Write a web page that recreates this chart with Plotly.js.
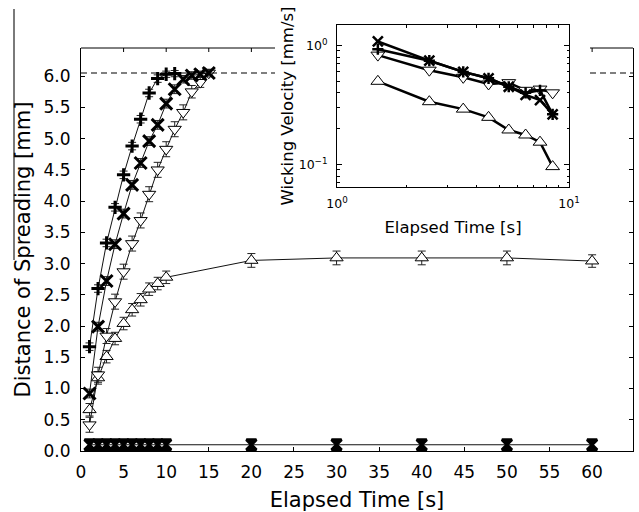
<!DOCTYPE html>
<html>
<head>
<meta charset="utf-8">
<script src="https://cdn.plot.ly/plotly-3.0.1.min.js"></script>
<style>html,body{margin:0;padding:0;background:#fff;}#chart{width:639px;height:512px;}</style>
</head>
<body>
<div id="chart"></div>
<script>
// ---- Main panel data: distance of spreading [mm] vs elapsed time [s]
var plusT = [1,2,3,4,5,6,7,8,9,10,11];
var plusY = [1.67,2.60,3.33,3.90,4.42,4.88,5.31,5.73,5.96,6.03,6.04];
var plusErr = [0.06,0.06,0.06,0.06,0.06,0.06,0.06,0.06,0.06,0.05,0.05];

var crossT = [1,2,3,4,5,6,7,8,9,10,11,12,13,14,15];
var crossY = [0.92,1.99,2.72,3.31,3.80,4.26,4.61,4.96,5.22,5.56,5.79,5.95,6.01,6.03,6.05];
var crossErr = [0.07,0.07,0.07,0.07,0.07,0.07,0.07,0.07,0.07,0.07,0.07,0.06,0.06,0.05,0.05];

var downT = [1,2,3,4,5,6,7,8,9,10,11,12,13,14,15];
var downY = [0.42,1.22,1.84,2.39,2.87,3.32,3.69,4.11,4.50,4.83,5.15,5.42,5.75,5.90,6.05];
var downErr = [0.12,0.12,0.12,0.12,0.12,0.12,0.12,0.12,0.12,0.12,0.12,0.12,0.10,0.08,0.06];

var upT = [1,2,3,4,5,6,7,8,9,10,20,30,40,50,60];
var upY = [0.66,1.17,1.51,1.80,2.04,2.26,2.42,2.59,2.68,2.78,3.05,3.09,3.09,3.09,3.04];
var upErr = [0.1,0.1,0.1,0.1,0.1,0.1,0.1,0.1,0.1,0.1,0.11,0.11,0.11,0.11,0.1];

var baseT = [1,2,3,4,5,6,7,8,9,10,20,30,40,50,60];
var baseY = [0.1,0.1,0.1,0.1,0.1,0.1,0.1,0.1,0.1,0.1,0.1,0.1,0.1,0.1,0.1];

var maxSpread = 6.05;   // dashed reference line
var xTickVals = [0,5,10,15,20,25,30,35,40,45,50,55,60];
var yTickVals = [0,0.5,1,1.5,2,2.5,3,3.5,4,4.5,5,5.5,6];

// ---- Inset data: wicking velocity [mm/s] vs elapsed time [s]
var vT = [1.5,2.5,3.5,4.5,5.5,6.5,7.5,8.5];
var vPlus = [0.93,0.745,0.60,0.53,0.45,0.40,0.42,0.264];
var vCross = [1.08,0.745,0.60,0.53,0.45,0.384,0.348,0.264];
var vDown = [0.83,0.62,0.54,0.475,0.487,0.42,0.43,0.40];
var vUp = [0.50,0.337,0.292,0.249,0.195,0.177,0.154,0.096];
var insetXTicks = [1,10];
var insetXText = ['10<sup>0</sup>','10<sup>1</sup>'];
var insetYTicks = [0.1,1];
var insetYText = ['10<sup>\u22121</sup>','10<sup>0</sup>'];

var FONT = 'DejaVu Sans, sans-serif';

function err(arr){ return {type:'data', array:arr, visible:true, color:'#222', thickness:1, width:4}; }
function mainTrace(x,y,e,sym,size,fill,lw){
  return {x:x, y:y, type:'scatter', mode:'lines+markers', xaxis:'x', yaxis:'y',
    line:{color:'#111', width:1}, error_y: e ? err(e) : undefined,
    marker:{symbol:sym, size:size, color:fill, line:{color:'#000', width:lw}},
    showlegend:false, hoverinfo:'skip', cliponaxis:false};
}
function insetTrace(x,y,sym,size,fill,lw){
  return {x:x, y:y, type:'scatter', mode:'lines+markers', xaxis:'x2', yaxis:'y2',
    line:{color:'#000', width:2.5},
    marker:{symbol:sym, size:size, color:fill, line:{color:'#000', width:lw}},
    showlegend:false, hoverinfo:'skip', cliponaxis:false};
}

var data = [
  mainTrace(upT, upY, upErr, 'triangle-up', 11.5, '#fff', 1),
  mainTrace(downT, downY, downErr, 'triangle-down', 11.5, '#fff', 1),
  mainTrace(crossT, crossY, crossErr, 'x-thin', 12, '#000', 3),
  mainTrace(plusT, plusY, plusErr, 'cross-thin', 9.5, '#000', 3),
  mainTrace(baseT, baseY, null, 'hourglass', 10, '#000', 3),
  insetTrace(vT, vUp, 'triangle-up', 12, '#fff', 1),
  insetTrace(vT, vDown, 'triangle-down', 12, '#fff', 1),
  insetTrace(vT, vCross, 'x-thin', 10, '#000', 2.5),
  insetTrace(vT, vPlus, 'cross-thin', 8, '#000', 2.5)
];

// main plot geometry (pixels)
var W = 639, H = 512, L = 81, R = 6, B = 61;
var plotW = W - L - R;           // 552
var paperH = H - B;              // 451 (t = 0)
var mainTop = 48;
var yDomTop = (paperH - mainTop) / paperH;
var gapL = (275 - L) / plotW, gapR = (590 - L) / plotW;   // region hidden by the inset
var xMax = 64.8;

var shapes = [];
// top spine (interrupted by inset)
[[0,gapL],[gapR,1]].forEach(function(s){
  shapes.push({type:'line', xref:'x domain', yref:'y domain', x0:s[0], x1:s[1], y0:1, y1:1,
    line:{color:'#000', width:1}});
  shapes.push({type:'line', xref:'x domain', yref:'y', x0:s[0], x1:s[1], y0:maxSpread, y1:maxSpread,
    line:{color:'#000', width:1.2, dash:'6px,4px'}});
});
// top ticks (inside)
xTickVals.forEach(function(v){
  var f = v / xMax;
  if ((f > 0 && f <= gapL) || (f >= gapR && f < 1)) {
    shapes.push({type:'line', xref:'x', yref:'y domain', ysizemode:'pixel', yanchor:1,
      x0:v, x1:v, y0:0, y1:-4, line:{color:'#000', width:1}});
  }
});
// stray vertical rule at the left edge of the figure
shapes.push({type:'line', xref:'paper', yref:'paper', x0:(14-L)/plotW, x1:(14-L)/plotW,
  y0:(paperH-9)/paperH, y1:(paperH-260)/paperH, line:{color:'#7a7a7a', width:2}});

var layout = {
  width: W, height: H,
  margin: {l:L, r:R, t:0, b:B, pad:0},
  paper_bgcolor:'#fff', plot_bgcolor:'#fff',
  font: {family: FONT, color:'#000'},
  showlegend:false,
  xaxis: {domain:[0,1], range:[0,xMax], anchor:'y', tickmode:'array', tickvals:xTickVals,
    ticks:'inside', ticklen:4, tickcolor:'#000', showline:true, linecolor:'#000', linewidth:1,
    mirror:false, showgrid:false, zeroline:false, tickfont:{size:17, family:FONT},
    ticklabelstandoff:6,
    title:{text:'Elapsed Time [s]', font:{size:21, family:FONT}, standoff:10}},
  yaxis: {domain:[0,yDomTop], range:[0,6.45], anchor:'x', tickmode:'array', tickvals:yTickVals,
    tickformat:'.1f', ticks:'inside', ticklen:4, tickcolor:'#000', showline:true, linecolor:'#000',
    linewidth:1, mirror:'allticks', showgrid:false, zeroline:false, tickfont:{size:17, family:FONT},
    ticklabelstandoff:6,
    title:{text:'Distance of Spreading [mm]', font:{size:21, family:FONT}, standoff:7}},
  xaxis2: {domain:[(337-L)/plotW,(569-L)/plotW], type:'log', range:[0,1], anchor:'y2',
    tickmode:'array', tickvals:insetXTicks, ticktext:insetXText,
    ticks:'inside', ticklen:5, tickcolor:'#000', showline:true, linecolor:'#000', linewidth:1,
    mirror:'allticks', showgrid:false, zeroline:false, tickfont:{size:12.5, family:FONT},
    ticklabelstandoff:5,
    minor:{ticks:'inside', ticklen:2.5, tickcolor:'#000', dtick:'D1', showgrid:false},
    title:{text:'Elapsed Time [s]', font:{size:16.5, family:FONT}, standoff:11}},
  yaxis2: {domain:[(paperH-187)/paperH,(paperH-25)/paperH], type:'log', range:[-1.189,0.172], anchor:'x2',
    tickmode:'array', tickvals:insetYTicks, ticktext:insetYText,
    ticks:'inside', ticklen:5, tickcolor:'#000', showline:true, linecolor:'#000', linewidth:1,
    mirror:'allticks', showgrid:false, zeroline:false, tickfont:{size:12.5, family:FONT},
    ticklabelstandoff:6,
    minor:{ticks:'inside', ticklen:2.5, tickcolor:'#000', dtick:'D1', showgrid:false},
    title:{text:'Wicking Velocity [mm/s]', font:{size:16.5, family:FONT}, standoff:0}},
  shapes: shapes
};

Plotly.newPlot('chart', data, layout, {staticPlot:true, displayModeBar:false});
</script>
</body>
</html>
